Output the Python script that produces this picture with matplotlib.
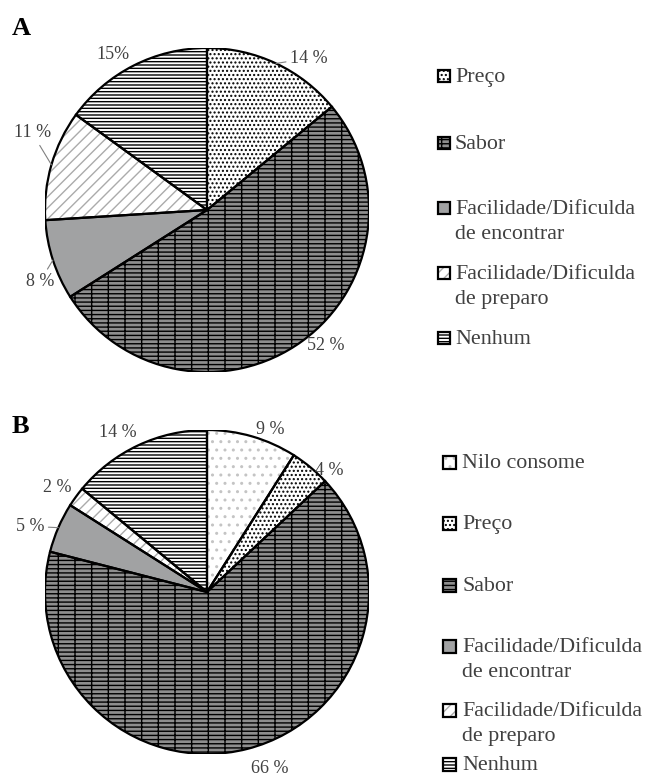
import matplotlib.pyplot as plt
from matplotlib.patches import Wedge, Rectangle
import numpy as np

plt.rcParams['font.family'] = ['Liberation Serif', 'DejaVu Serif']
plt.rcParams['hatch.linewidth'] = 1.0

# --- data ---
cats_a = ['Preço', 'Sabor', 'Facilidade/Dificulda\nde encontrar',
          'Facilidade/Dificulda\nde preparo', 'Nenhum']
vals_a = [14, 52, 8, 11, 15]
pct_a = ['14 %', '52 %', '8 %', '11 %', '15%']

cats_b = ['Nilo consome', 'Preço', 'Sabor', 'Facilidade/Dificulda\nde encontrar',
          'Facilidade/Dificulda\nde preparo', 'Nenhum']
vals_b = [9, 4, 66, 5, 2, 14]
pct_b = ['9 %', '4 %', '66 %', '5 %', '2 %', '14 %']

# fill colour, hatch, hatch colour for each category
styles = {
    'Nilo consome': ('white', '..', '#c4c4c4'),
    'Preço': ('white', '....', 'black'),
    'Sabor': ('#8e8e8e', '----|', 'black'),
    'Facilidade/Dificulda\nde encontrar': ('#a1a2a3', '', 'none'),
    'Facilidade/Dificulda\nde preparo': ('white', '///', '#ababab'),
    'Nenhum': ('white', '-----', 'black'),
}

W, H = 649, 776
R = 162.0  # pie radius in pixels
txt_col = '#404040'

fig = plt.figure(figsize=(W / 100, H / 100), dpi=100)


def draw_pie(center, vals, cats, pcts, nudges, leaders):
    cx, cy = center
    ax = fig.add_axes([(cx - R) / W, (H - cy - R) / H, 2 * R / W, 2 * R / H])
    wedges, _ = ax.pie(vals, startangle=90, counterclock=False, radius=1,
                       colors=[styles[c][0] for c in cats],
                       wedgeprops=dict(linewidth=0))
    for w, c, p, (dx, dy), lead in zip(wedges, cats, pcts, nudges, leaders):
        fc, hatch, hc = styles[c]
        if hatch:
            w.set_hatch(hatch)
            w.set_edgecolor(hc)
        ax.add_patch(Wedge((0, 0), 1, w.theta1, w.theta2, fc='none',
                           ec='black', lw=1.6, zorder=3))
        mid = np.deg2rad((w.theta1 + w.theta2) / 2)
        tx = 1.13 * np.cos(mid) + dx / R
        ty = 1.13 * np.sin(mid) - dy / R
        if lead:
            ax.annotate(p, xy=(np.cos(mid), np.sin(mid)), xytext=(tx, ty),
                        ha='center', va='center', fontsize=13, color=txt_col,
                        annotation_clip=False,
                        arrowprops=dict(arrowstyle='-', color='#808080',
                                        lw=0.8, shrinkA=1, shrinkB=0))
        else:
            ax.text(tx, ty, p, ha='center', va='center', fontsize=13,
                    color=txt_col)
    ax.set_xlim(-1, 1)
    ax.set_ylim(-1, 1)
    return ax


def draw_legend(cats, ys, x_box, size, x_txt):
    for c, yc in zip(cats, ys):
        fc, hatch, hc = styles[c]
        box = (x_box / W, 1 - (yc + size / 2) / H)
        fig.add_artist(Rectangle(box, size / W, size / H, transform=fig.transFigure,
                                 fc=fc, hatch=hatch or None, ec=hc, lw=0))
        fig.add_artist(Rectangle(box, size / W, size / H, transform=fig.transFigure,
                                 fc='none', ec='black', lw=1.6))
        for k, line in enumerate(c.split('\n')):
            fig.text(x_txt / W, 1 - (yc + 6 + 25 * k) / H, line, fontsize=15.8,
                     color=txt_col, va='baseline', ha='left')


# label nudges in pixels (right, down) from the default radial position
draw_pie((207, 210), vals_a, cats_a, pct_a,
         [(24, 14), (11, -13), (7, 15), (1, -26), (-11, 8)],
         [True, False, True, True, False])
draw_pie((207, 592), vals_b, cats_b, pct_b,
         [(12, 13), (6, 20), (17, -1), (-9, 7), (-2, 3), (-11, 6)],
         [False, False, False, True, False, False])

draw_legend(cats_a, [76, 143, 208, 273, 338], 438, 12, 455)
draw_legend(cats_b, [462, 523, 585, 646, 710, 764], 443, 13, 462)

fig.text(12 / W, 1 - 35 / H, 'A', fontsize=19, fontweight='bold', color='black')
fig.text(12 / W, 1 - 433 / H, 'B', fontsize=19, fontweight='bold', color='black')

fig.savefig('out.png', dpi=100)
